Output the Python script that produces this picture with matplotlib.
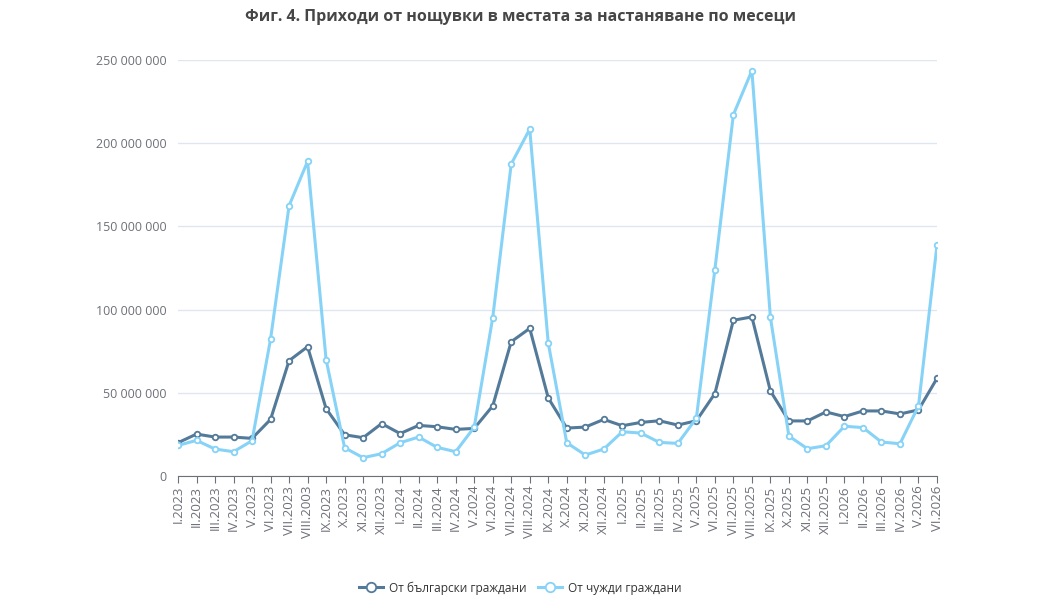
import matplotlib
matplotlib.use("Agg")
import matplotlib.pyplot as plt
from matplotlib.ticker import FuncFormatter

plt.rcParams['font.family'] = ['Open Sans', 'DejaVu Sans']

# month labels (kept as on the source, incl. "VIII.2003")
months = ["I.2023", "II.2023", "III.2023", "IV.2023", "V.2023", "VI.2023",
          "VII.2023", "VIII.2003", "IX.2023", "X.2023", "XI.2023", "XII.2023",
          "I.2024", "II.2024", "III.2024", "IV.2024", "V.2024", "VI.2024",
          "VII.2024", "VIII.2024", "IX.2024", "X.2024", "XI.2024", "XII.2024",
          "I.2025", "II.2025", "III.2025", "IV.2025", "V.2025", "VI.2025",
          "VII.2025", "VIII.2025", "IX.2025", "X.2025", "XI.2025", "XII.2025",
          "I.2026", "II.2026", "III.2026", "IV.2026", "V.2026", "VI.2026"]

# revenue, million BGN
bulgarian = [20.0, 25.2, 23.4, 23.4, 22.6, 34.0, 69.3, 77.7, 40.5, 24.8, 23.0, 31.5,
             25.5, 30.4, 29.6, 28.0, 28.6, 42.1, 80.7, 88.7, 46.9, 28.8, 29.4, 34.0,
             30.2, 32.2, 33.2, 30.6, 33.2, 49.5, 93.6, 95.6, 51.1, 33.1, 33.1, 38.5,
             35.7, 39.1, 39.1, 37.3, 39.7, 58.7]
foreign = [18.4, 21.4, 16.2, 14.6, 21.2, 82.3, 162.4, 189.1, 69.9, 17.0, 11.0, 13.4,
           20.0, 23.4, 17.2, 14.6, 29.3, 95.1, 187.5, 208.5, 79.9, 20.0, 12.6, 16.2,
           26.6, 25.8, 20.2, 19.6, 34.7, 124.0, 217.1, 243.6, 95.4, 24.0, 16.4, 18.2,
           29.9, 29.1, 20.4, 19.4, 42.1, 138.8]

series_names = ["От български граждани", "От чужди граждани"]
colors = ["#547a99", "#86d3f7"]

fig = plt.figure(figsize=(10.41, 6.0), dpi=100)
ax = fig.add_axes([178 / 1041, 1 - 476 / 600, (937 - 178) / 1041, (476 - 60) / 600])

x = list(range(len(months)))
for vals, name, c in zip([bulgarian, foreign], series_names, colors):
    ax.plot(x, [v * 1e6 for v in vals], color=c, lw=2.2, marker="o", ms=4,
            mfc="white", mec=c, mew=1.3, label=name, zorder=3)

ax.set_xlim(0, len(months) - 1)
ax.set_ylim(0, 250e6)
ax.set_yticks([0, 50e6, 100e6, 150e6, 200e6, 250e6])
ax.yaxis.set_major_formatter(FuncFormatter(lambda v, p: f"{int(v):,}".replace(",", " ")))
ax.set_xticks(x)
ax.set_xticklabels(months, rotation=90)

ax.grid(axis="y", color="#e0e6f1", lw=1)
ax.set_axisbelow(True)
for s in ["top", "right", "left"]:
    ax.spines[s].set_visible(False)
ax.spines["bottom"].set_color("#6e7079")
ax.tick_params(axis="y", length=0, labelsize=9, labelcolor="#6e7079", pad=8)
ax.tick_params(axis="x", length=5, color="#6e7079", labelsize=9.5, labelcolor="#6e7079", pad=2)

fig.suptitle("Фиг. 4. Приходи от нощувки в местата за настаняване по месеци",
             x=0.5, y=0.985, fontsize=11.5, fontweight="bold", color="#464646")

fig.legend(loc="center", bbox_to_anchor=(0.5, 1 - 588 / 600), ncol=2, frameon=False,
           fontsize=8.6, handlelength=2.0, handletextpad=0.5, columnspacing=1.0,
           labelcolor="#333333", markerscale=1.7)

fig.savefig("out.png", dpi=100)
